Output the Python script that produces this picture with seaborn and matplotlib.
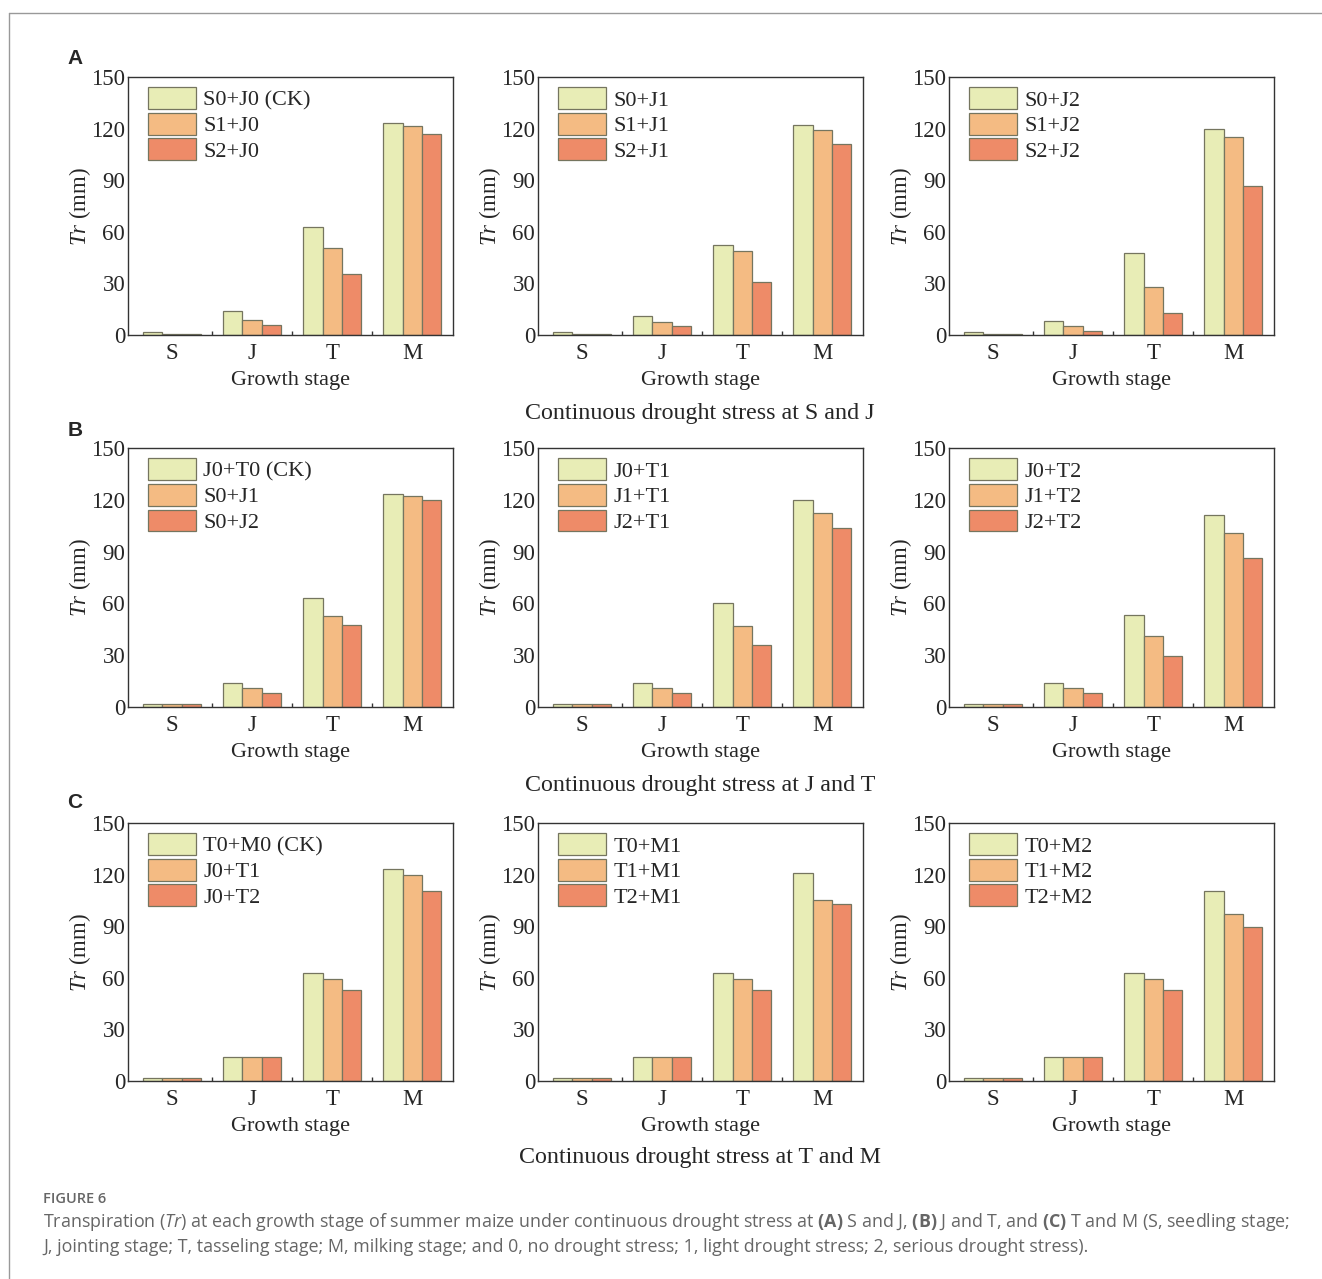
import numpy as np
import pandas as pd
import seaborn as sns
import matplotlib.pyplot as plt
from matplotlib.lines import Line2D
from matplotlib.ticker import FixedLocator

sns.set_theme(style="white")
plt.rcParams["font.family"] = ["Liberation Serif", "DejaVu Serif"]
plt.rcParams["mathtext.fontset"] = "custom"
plt.rcParams["mathtext.rm"] = "Liberation Serif"
plt.rcParams["mathtext.it"] = "Liberation Serif:italic"
plt.rcParams["mathtext.sf"] = "Open Sans:italic"
plt.rcParams["mathtext.bf"] = "Open Sans:bold"

stages = ["S", "J", "T", "M"]
colors = ["#E8EDB6", "#F4BB83", "#EE8B68"]

# legend labels, one list per panel (row by row)
labels = [
    ["S0+J0 (CK)", "S1+J0", "S2+J0"],
    ["S0+J1", "S1+J1", "S2+J1"],
    ["S0+J2", "S1+J2", "S2+J2"],
    ["J0+T0 (CK)", "S0+J1", "S0+J2"],
    ["J0+T1", "J1+T1", "J2+T1"],
    ["J0+T2", "J1+T2", "J2+T2"],
    ["T0+M0 (CK)", "J0+T1", "J0+T2"],
    ["T0+M1", "T1+M1", "T2+M1"],
    ["T0+M2", "T1+M2", "T2+M2"],
]

# Tr values per panel: 3 treatments x 4 stages (S, J, T, M)
tr_a1 = [[1.5, 14, 63, 123.5], [0.8, 9, 50.5, 121.5], [0.3, 6, 35.5, 117]]
tr_a2 = [[1.5, 11, 52.5, 122], [0.8, 7.5, 49, 119], [0.3, 5, 31, 111]]
tr_a3 = [[1.5, 8, 47.5, 120], [0.8, 5, 28, 115], [0.3, 2.5, 13, 86.5]]
tr_b1 = [[1.5, 14, 63, 123.5], [1.5, 11, 52.5, 122], [1.5, 8, 47.5, 120]]
tr_b2 = [[1.5, 14, 60, 120], [1.5, 11, 47, 112.5], [1.5, 8, 36, 103.5]]
tr_b3 = [[1.5, 14, 53, 111], [1.5, 11, 41, 100.5], [1.5, 8, 29.5, 86.5]]
tr_c1 = [[1.5, 14, 63, 123.5], [1.5, 14, 59.5, 119.5], [1.5, 14, 53, 110.5]]
tr_c2 = [[1.5, 14, 63, 121], [1.5, 14, 59.5, 105.5], [1.5, 14, 53, 103]]
tr_c3 = [[1.5, 14, 63, 110.5], [1.5, 14, 59.5, 97], [1.5, 14, 53, 89.5]]
values = [tr_a1, tr_a2, tr_a3, tr_b1, tr_b2, tr_b3, tr_c1, tr_c2, tr_c3]

row_titles = ["Continuous drought stress at S and J",
              "Continuous drought stress at J and T",
              "Continuous drought stress at T and M"]
panel_letters = ["A", "B", "C"]

W, H = 1322, 1279
fig = plt.figure(figsize=(W / 100, H / 100), dpi=100)

row_top = [77, 448, 823]
row_bot = [335, 707, 1081]
col_left = [128, 538, 949]
ax_w = 325

for i in range(9):
    r, c = divmod(i, 3)
    left = col_left[c] / W
    bottom = 1 - row_bot[r] / H
    height = (row_bot[r] - row_top[r]) / H
    ax = fig.add_axes([left, bottom, ax_w / W, height])

    rows = []
    for k in range(3):
        for j, st in enumerate(stages):
            rows.append({"stage": st, "treat": labels[i][k], "Tr": values[i][k][j]})
    df = pd.DataFrame(rows)

    sns.barplot(data=df, x="stage", y="Tr", hue="treat", hue_order=labels[i],
                order=stages, palette=colors, width=0.72, ax=ax,
                edgecolor="#75755f", linewidth=0.9, saturation=1)

    ax.set_xlim(-0.55, 3.51)
    ax.set_ylim(0, 150)
    ax.set_yticks([0, 30, 60, 90, 120, 150])
    ax.xaxis.set_minor_locator(FixedLocator([0.5, 1.5, 2.5]))
    ax.tick_params(axis="both", which="major", length=0, labelsize=16.5)
    ax.tick_params(axis="x", which="major", pad=6)
    ax.tick_params(axis="y", which="major", pad=2)
    ax.tick_params(axis="x", which="minor", direction="in", length=3,
                   width=1, color="#333333", bottom=True)
    for sp in ax.spines.values():
        sp.set_color("#333333")
        sp.set_linewidth(1.0)
    ax.set_xlabel("Growth stage", fontsize=16, labelpad=5)
    ax.set_ylabel(r"$\mathit{Tr}$ (mm)", fontsize=16.5, labelpad=-1)

    ax.legend(loc="upper left", bbox_to_anchor=(0.06, 0.96),
              frameon=False, fontsize=16, handlelength=2.16,
              handleheight=1.12, labelspacing=0.1, handletextpad=0.35,
              borderpad=0, borderaxespad=0)

for r in range(3):
    ty = [413, 786, 1157][r]
    fig.text(700 / W, 1 - ty / H, row_titles[r], ha="center", va="center",
             fontsize=17.3)
    ly = [59, 430, 803][r]
    fig.text(75 / W, 1 - ly / H, panel_letters[r], ha="center", va="center",
             fontsize=15, fontweight="bold", family=["Liberation Sans", "DejaVu Sans"])

# frame lines of the figure box
fig.add_artist(Line2D([9 / W, 1], [1 - 13 / H, 1 - 13 / H], color="#999999", lw=1))
fig.add_artist(Line2D([9 / W, 9 / W], [0, 1 - 13 / H], color="#999999", lw=1))

cap_font = ["Open Sans", "DejaVu Sans"]
fig.text(43 / W, 1 - 1199 / H, "FIGURE 6", fontsize=10.5, color="#666666",
         va="center", family=cap_font, fontweight="semibold")
fig.text(43 / W, 1 - 1222 / H,
         r"Transpiration ($\mathsf{Tr}$) at each growth stage of summer maize under continuous drought stress at "
         r"$\mathbf{(A)}$ S and J, $\mathbf{(B)}$ J and T, and $\mathbf{(C)}$ T and M (S, seedling stage;",
         fontsize=12.9, color="#666666", va="center", family=cap_font)
fig.text(43 / W, 1 - 1247 / H,
         "J, jointing stage; T, tasseling stage; M, milking stage; and 0, no drought stress; 1, light drought stress; 2, serious drought stress).",
         fontsize=12.9, color="#666666", va="center", family=cap_font)

fig.savefig("out.png", dpi=100)
